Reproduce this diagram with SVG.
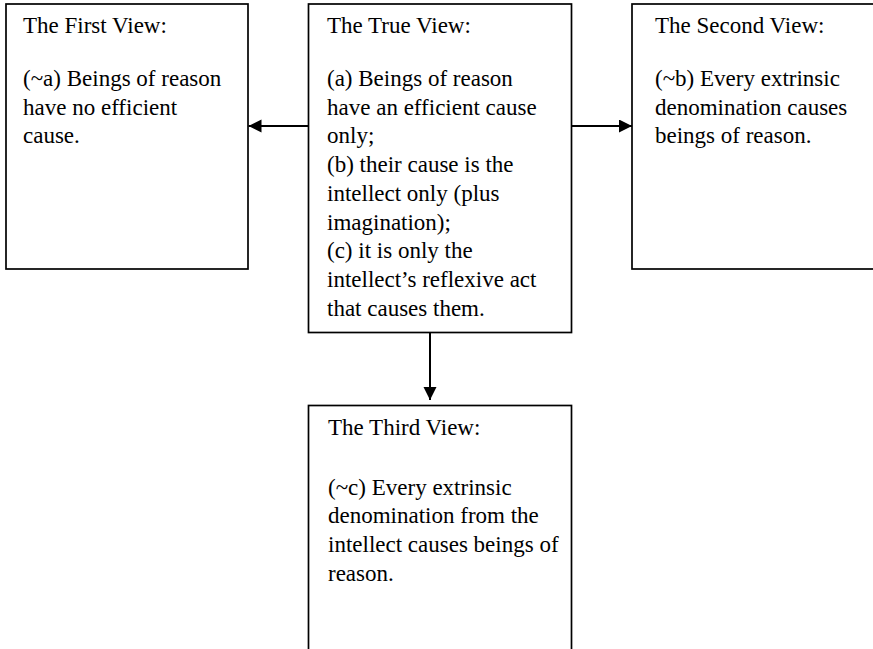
<svg xmlns="http://www.w3.org/2000/svg" width="873" height="649" viewBox="0 0 873 649">
<style>
.box{fill:#fff;stroke:#000;stroke-width:1.7}
.t{font-family:"Liberation Serif","Times New Roman",serif;font-size:23px;fill:#000}
.c{stroke:#000;stroke-width:2;fill:none}
</style>
<defs>
<marker id="ah" markerUnits="userSpaceOnUse" markerWidth="14" markerHeight="14" refX="13" refY="6.5" orient="auto">
<path d="M0,0 L13,6.5 L0,13 z" fill="#000"/>
</marker>
</defs>
<rect width="873" height="649" fill="#fff"/>
<g id="first-view">
<rect class="box" x="6" y="4" width="242" height="265"/>
<text class="t" x="23" y="33">The First View:</text>
<text class="t" x="23" y="86">(~a) Beings of reason</text>
<text class="t" x="23" y="114.7">have no efficient</text>
<text class="t" x="23" y="143.4">cause.</text>
</g>
<g id="true-view">
<rect class="box" x="308.5" y="4" width="263" height="328.5"/>
<text class="t" x="327" y="33">The True View:</text>
<text class="t" x="327" y="86">(a) Beings of reason</text>
<text class="t" x="327" y="114.7">have an efficient cause</text>
<text class="t" x="327" y="143.4">only;</text>
<text class="t" x="327" y="172">(b) their cause is the</text>
<text class="t" x="327" y="200.8">intellect only (plus</text>
<text class="t" x="327" y="229.5">imagination);</text>
<text class="t" x="327" y="258.2">(c) it is only the</text>
<text class="t" x="327" y="287">intellect’s reflexive act</text>
<text class="t" x="327" y="315.7">that causes them.</text>
</g>
<g id="second-view">
<rect class="box" x="632" y="4" width="260" height="265"/>
<text class="t" x="655" y="33">The Second View:</text>
<text class="t" x="655" y="86">(~b) Every extrinsic</text>
<text class="t" x="655" y="114.7">denomination causes</text>
<text class="t" x="655" y="143.4">beings of reason.</text>
</g>
<g id="third-view">
<rect class="box" x="308.5" y="405.5" width="263" height="260"/>
<text class="t" x="328" y="435">The Third View:</text>
<text class="t" x="328" y="494.5">(~c) Every extrinsic</text>
<text class="t" x="328" y="523.2">denomination from the</text>
<text class="t" x="328" y="551.9">intellect causes beings of</text>
<text class="t" x="328" y="580.6">reason.</text>
</g>
<g id="connectors">
<line class="c" x1="308.5" y1="126" x2="248.5" y2="126" marker-end="url(#ah)"/>
<line class="c" x1="571.5" y1="126" x2="632" y2="126" marker-end="url(#ah)"/>
<line class="c" x1="430" y1="332.5" x2="430" y2="400" marker-end="url(#ah)"/>
</g>
</svg>
